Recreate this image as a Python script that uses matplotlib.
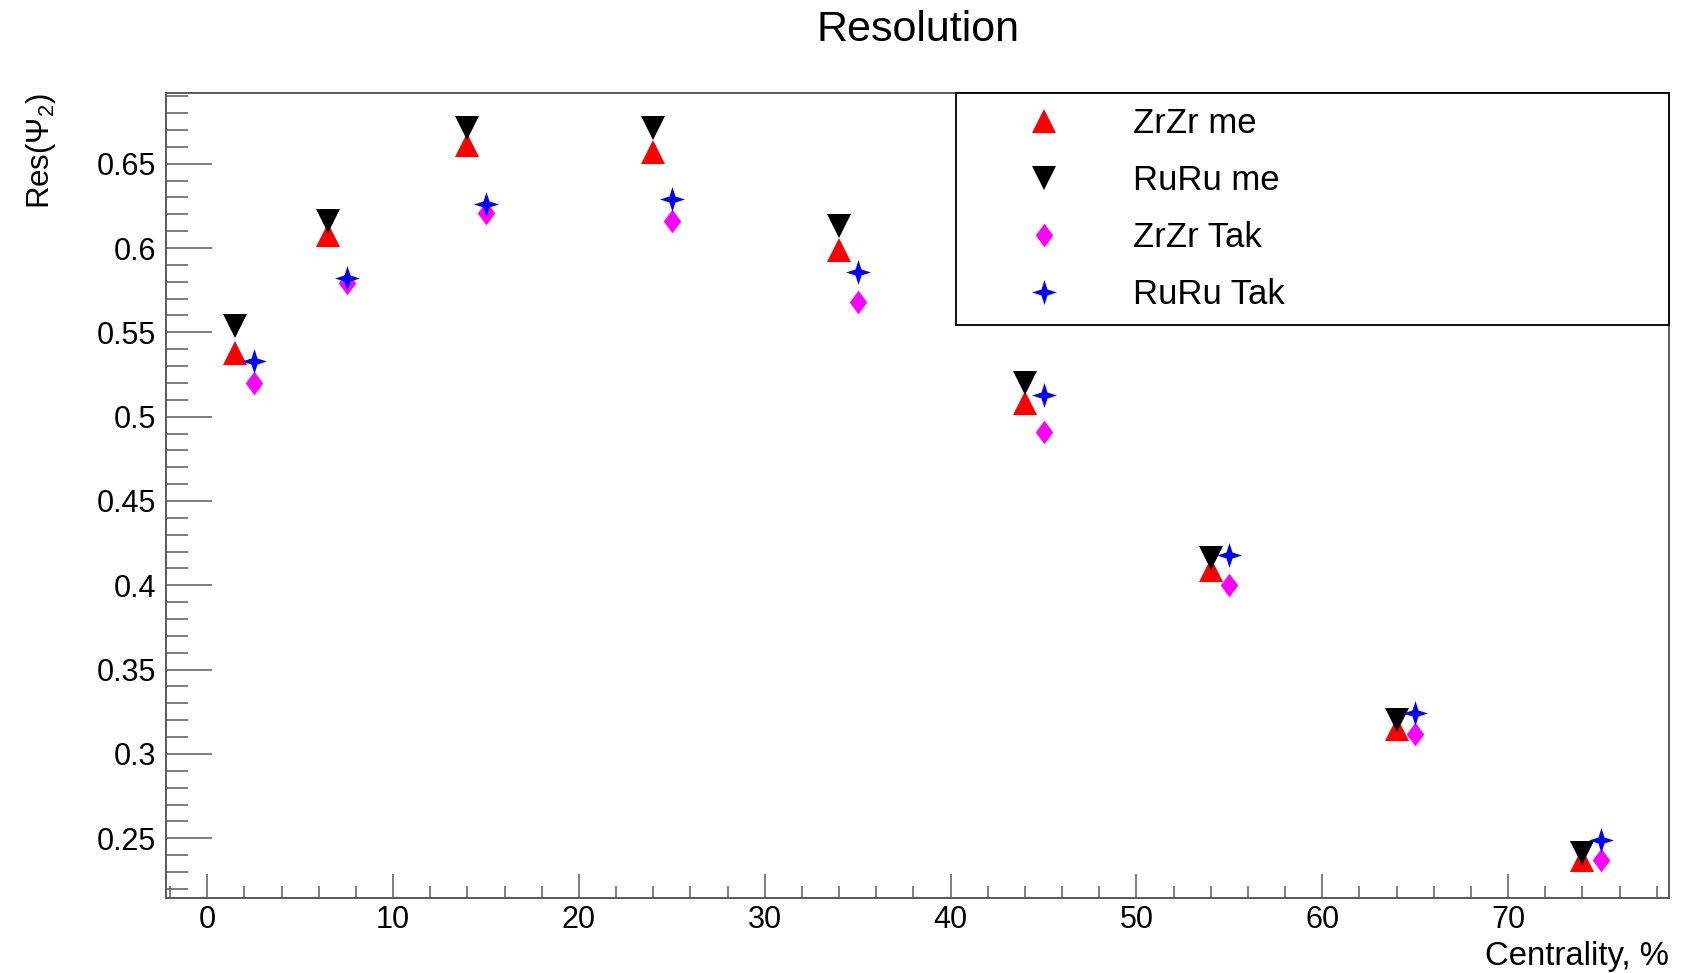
import matplotlib
matplotlib.use("Agg")
import matplotlib.pyplot as plt
from matplotlib.path import Path
from matplotlib.ticker import MultipleLocator
import numpy as np

plt.rcParams.update({
    'font.family': ['Liberation Sans', 'DejaVu Sans'],
    'mathtext.fontset': 'custom',
    'mathtext.rm': 'Liberation Sans',
    'mathtext.it': 'Liberation Sans:italic',
    'mathtext.bf': 'Liberation Sans:bold',
})

# centrality bin positions (the "me" points are shifted left by 1 %)
cent_me = [1.5, 6.5, 14, 24, 34, 44, 54, 64, 74]
cent_tak = [2.5, 7.5, 15, 25, 35, 45, 55, 65, 75]

zrzr_me = [0.538, 0.608, 0.661, 0.657, 0.599, 0.508, 0.409, 0.315, 0.237]
ruru_me = [0.554, 0.616, 0.671, 0.671, 0.613, 0.520, 0.416, 0.320, 0.241]
zrzr_tak = [0.520, 0.579, 0.621, 0.616, 0.568, 0.491, 0.400, 0.312, 0.237]
ruru_tak = [0.533, 0.582, 0.626, 0.629, 0.586, 0.513, 0.418, 0.324, 0.249]

labels = ['ZrZr me', 'RuRu me', 'ZrZr Tak', 'RuRu Tak']

# ROOT-like marker shapes
diamond = Path([(0, 1), (0.74, 0), (0, -1), (-0.74, 0), (0, 1)],
               [Path.MOVETO, Path.LINETO, Path.LINETO, Path.LINETO, Path.CLOSEPOLY])
r = 0.24
star4 = Path([(0, 1), (r, r), (1, 0), (r, -r), (0, -1), (-r, -r), (-1, 0), (-r, r), (0, 1)],
             [Path.MOVETO] + [Path.LINETO] * 7 + [Path.CLOSEPOLY])

fig = plt.figure(figsize=(16.91, 9.73), dpi=100)
ax = fig.add_axes([0.0982, 0.0771, 0.8888, 0.8273])

ax.plot(cent_me, zrzr_me, ls='none', marker='^', ms=17, color='#ff0000', mew=0, label=labels[0])
ax.plot(cent_me, ruru_me, ls='none', marker='v', ms=17, color='black', mew=0, label=labels[1])
ax.plot(cent_tak, zrzr_tak, ls='none', marker=diamond, ms=17, color='#ff00ff', mew=0, label=labels[2])
ax.plot(cent_tak, ruru_tak, ls='none', marker=star4, ms=18, color='#0000ff', mew=0, label=labels[3])

ax.set_xlim(-2.22, 78.66)
ax.set_ylim(0.2146, 0.6919)

ax.xaxis.set_major_locator(MultipleLocator(10))
ax.xaxis.set_minor_locator(MultipleLocator(2))
ax.yaxis.set_major_locator(MultipleLocator(0.05))
ax.yaxis.set_minor_locator(MultipleLocator(0.01))
ax.yaxis.set_major_formatter(matplotlib.ticker.FuncFormatter(lambda v, p: f'{v:g}'))

frame_col = '#5a5a5a'
for sp in ax.spines.values():
    sp.set_color(frame_col)
    sp.set_linewidth(1.4)

ax.tick_params(axis='both', which='both', direction='in', color=frame_col,
               top=False, right=False, labelsize=22, width=1.1)
ax.tick_params(axis='y', which='major', length=33, pad=7)
ax.tick_params(axis='y', which='minor', length=16)
ax.tick_params(axis='x', which='major', length=17, pad=5)
ax.tick_params(axis='x', which='minor', length=8.7)

ax.set_xlabel('Centrality, %', fontsize=23.7, loc='right')
ax.xaxis.set_label_coords(1.0, -0.054)
ax.set_ylabel(r'Res($\Psi_{2}$)', fontsize=22.5, loc='top')
ax.yaxis.set_label_coords(-0.072, 1.0)

fig.text(0.5426, 1 - 40.7 / 973, 'Resolution', fontsize=31, ha='center', va='baseline')

leg = ax.legend(loc='upper left', bbox_to_anchor=(0.5256, 0.0, 0.4744, 1.0),
                mode='expand', borderaxespad=0, fontsize=25, frameon=True,
                fancybox=False, framealpha=1, edgecolor='black',
                borderpad=0.4, handlelength=4.27, handletextpad=0.43,
                labelspacing=0.69, numpoints=1)
leg.get_frame().set_linewidth(1.3)

fig.savefig('out.png', dpi=100)
